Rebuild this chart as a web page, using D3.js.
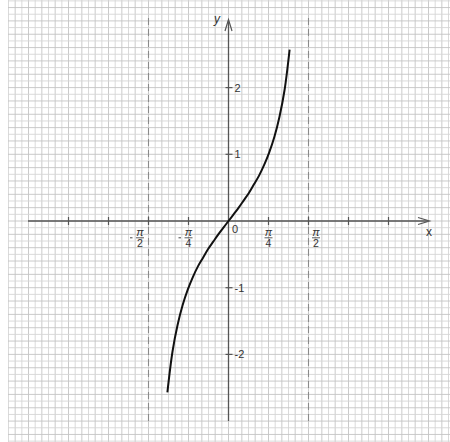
<!DOCTYPE html>
<html><head><meta charset="utf-8">
<script src="https://cdn.jsdelivr.net/npm/d3@7"></script>
<style>body{margin:0;background:#fff}svg{display:block}</style>
</head><body>
<script>
// Curve points (x in radians, y value)
const curveX = [-1.2,-1.1,-1.0,-0.9,-0.8,-0.7,-0.6,-0.5,-0.4,-0.3,-0.2,-0.1,0,0.1,0.2,0.3,0.4,0.5,0.6,0.7,0.8,0.9,1.0,1.1,1.2];
const curveY = [-2.57,-1.96,-1.56,-1.26,-1.03,-0.84,-0.68,-0.55,-0.42,-0.31,-0.20,-0.10,0,0.10,0.20,0.31,0.42,0.55,0.68,0.84,1.03,1.26,1.56,1.96,2.57];
const xTickMultiples = [-4,-3,-2,-1,1,2,3,4]; // multiples of pi/4
const xLabels = [{m:-2,sign:"-",num:"π",den:"2"},{m:-1,sign:"-",num:"π",den:"4"},{m:1,sign:"",num:"π",den:"4"},{m:2,sign:"",num:"π",den:"2"}];
const yTicks = [-2,-1,1,2];
const asymptotes = [-Math.PI/2, Math.PI/2];

const W=450,H=442;
const PI=Math.PI;
const ox=228.5, oy=221, pxPerQuarter=40, pxPerUnit=66.7;
const x=d3.scaleLinear().domain([0,PI/4]).range([ox,ox+pxPerQuarter]);
const y=d3.scaleLinear().domain([0,1]).range([oy,oy-pxPerUnit]);

const svg=d3.select("body").append("svg").attr("width",W).attr("height",H);
svg.append("rect").attr("width",W).attr("height",H).attr("fill","#fff");

// grid
const g=svg.append("g");
const gx0=8,gx1=W,gy0=0,gy1=H;
const kx0=Math.ceil(x.invert(gx0)/(PI/24)), kx1=Math.floor(x.invert(gx1)/(PI/24));
for(let k=kx0;k<=kx1;k++){
  const px=x(k*PI/24);
  g.append("line").attr("x1",px).attr("x2",px).attr("y1",gy0).attr("y2",gy1)
   .attr("stroke",k%2===0?"#c4c4c4":"#d6d6d6").attr("stroke-width",0.9);
}
const ky0=Math.ceil(y.invert(gy1)*10), ky1=Math.floor(y.invert(gy0)*10);
for(let k=ky0;k<=ky1;k++){
  const py=y(k/10);
  g.append("line").attr("x1",gx0).attr("x2",gx1).attr("y1",py).attr("y2",py)
   .attr("stroke",k%2===0?"#c4c4c4":"#d6d6d6").attr("stroke-width",0.9);
}

// asymptotes
svg.selectAll(".asy").data(asymptotes).enter().append("line")
  .attr("x1",d=>x(d)).attr("x2",d=>x(d)).attr("y1",18).attr("y2",422)
  .attr("stroke","#8a8a8a").attr("stroke-width",1.1).attr("stroke-dasharray","7,4");

// axes
const axisCol="#555";
svg.append("line").attr("x1",28).attr("x2",428).attr("y1",oy).attr("y2",oy).attr("stroke",axisCol).attr("stroke-width",1.3);
svg.append("line").attr("x1",ox).attr("x2",ox).attr("y1",21).attr("y2",421).attr("stroke",axisCol).attr("stroke-width",1.3);
// arrows
svg.append("path").attr("d",`M${418},${oy-3.5} L${429.5},${oy} L${418},${oy+3.5}`).attr("fill","none").attr("stroke",axisCol).attr("stroke-width",1.2);
svg.append("path").attr("d",`M${ox-3.5},${31} L${ox},${19.5} L${ox+3.5},${31}`).attr("fill","none").attr("stroke",axisCol).attr("stroke-width",1.2);

// x ticks
svg.selectAll(".xt").data(xTickMultiples).enter().append("line")
  .attr("x1",d=>x(d*PI/4)).attr("x2",d=>x(d*PI/4)).attr("y1",oy-4).attr("y2",oy+4)
  .attr("stroke",axisCol).attr("stroke-width",1.2);
// y ticks
svg.selectAll(".yt").data(yTicks).enter().append("line")
  .attr("x1",ox-3).attr("x2",ox+4).attr("y1",d=>y(d)).attr("y2",d=>y(d))
  .attr("stroke",axisCol).attr("stroke-width",1.2);

const font="Liberation Sans, Arial, sans-serif";
const txtCol="#333";
// y labels
svg.selectAll(".yl").data(yTicks).enter().append("text")
  .attr("x",d=>d>0?ox+6:ox+6).attr("y",d=>y(d)+4).text(d=>d<0?"-"+Math.abs(d):d)
  .attr("font-family",font).attr("font-size",11).attr("fill",txtCol);
// x fraction labels
const xl=svg.selectAll(".xl").data(xLabels).enter().append("g")
  .attr("transform",d=>{
    let cx=x(d.m*PI/4);
    if(d.m===-2) cx-=8.5;
    if(d.m===2) cx+=7.5;
    return `translate(${cx},0)`;
  });
xl.append("text").attr("x",0).attr("y",235.5).attr("text-anchor","middle").text(d=>d.num)
  .attr("font-family",font).attr("font-size",11).attr("fill",txtCol).attr("font-style","italic");
xl.append("line").attr("x1",-4).attr("x2",4).attr("y1",237.8).attr("y2",237.8).attr("stroke",txtCol).attr("stroke-width",0.8);
xl.append("text").attr("x",0).attr("y",247).attr("text-anchor","middle").text(d=>d.den)
  .attr("font-family",font).attr("font-size",10.5).attr("fill",txtCol);
xl.filter(d=>d.sign).append("line").attr("x1",-10).attr("x2",-7.5).attr("y1",237.8).attr("y2",237.8).attr("stroke",txtCol).attr("stroke-width",0.9);

svg.append("text").attr("x",232).attr("y",233).text("0").attr("font-family",font).attr("font-size",11).attr("fill",txtCol);
svg.append("text").attr("x",426).attr("y",236).text("x").attr("font-family",font).attr("font-size",12).attr("fill",txtCol);
svg.append("text").attr("x",214).attr("y",23).text("y").attr("font-family",font).attr("font-size",12).attr("font-style","italic").attr("fill",txtCol);

// curve
const pts=curveX.map((v,i)=>[v,curveY[i]]);
svg.append("path").datum(pts)
  .attr("d",d3.line().x(d=>x(d[0])).y(d=>y(d[1])).curve(d3.curveCatmullRom))
  .attr("fill","none").attr("stroke","#111").attr("stroke-width",2);
</script>
</body></html>
